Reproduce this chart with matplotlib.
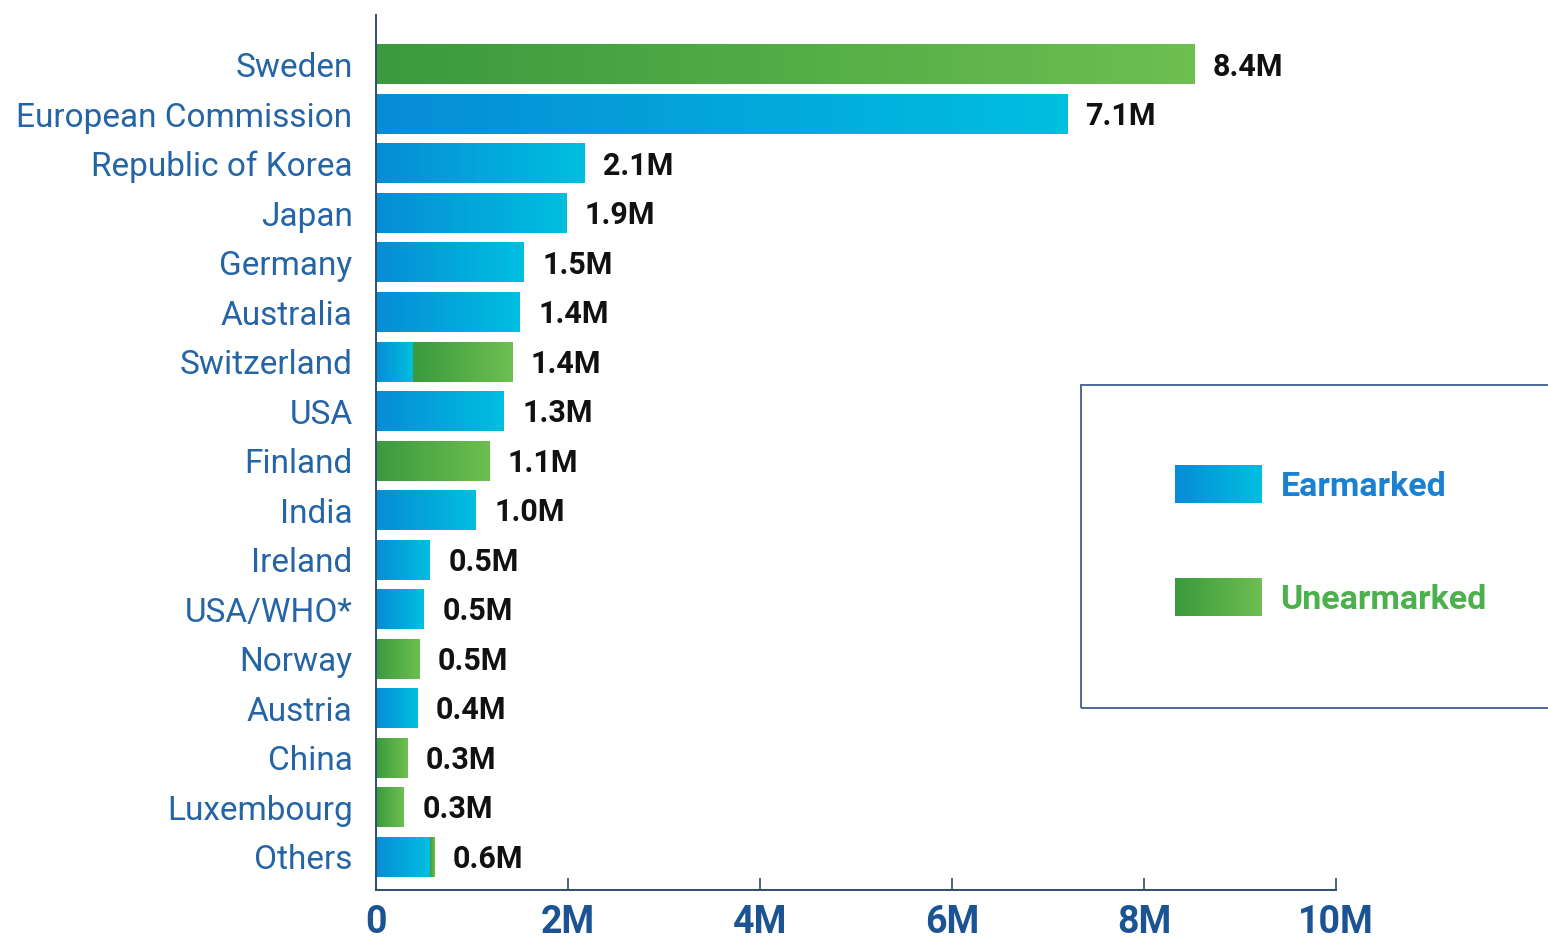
import numpy as np
import matplotlib.pyplot as plt
from matplotlib.colors import LinearSegmentedColormap
from matplotlib.patches import Rectangle

donors = ["Sweden", "European Commission", "Republic of Korea", "Japan", "Germany",
          "Australia", "Switzerland", "USA", "Finland", "India", "Ireland",
          "USA/WHO*", "Norway", "Austria", "China", "Luxembourg", "Others"]
# millions of USD
earmarked = [0, 7.2, 2.17, 1.98, 1.54, 1.5, 0.38, 1.33, 0, 1.04, 0.56,
             0.5, 0, 0.43, 0, 0, 0.56]
unearmarked = [8.53, 0, 0, 0, 0, 0, 1.04, 0, 1.18, 0, 0,
               0, 0.45, 0, 0.33, 0.29, 0.05]
value_labels = ["8.4M", "7.1M", "2.1M", "1.9M", "1.5M", "1.4M", "1.4M", "1.3M",
                "1.1M", "1.0M", "0.5M", "0.5M", "0.5M", "0.4M", "0.3M", "0.3M", "0.6M"]
xticks = [0, 2, 4, 6, 8, 10]
xtick_labels = ["0", "2M", "4M", "6M", "8M", "10M"]

blue_cmap = LinearSegmentedColormap.from_list("blue", ["#078cd6", "#00bfe0"])
green_cmap = LinearSegmentedColormap.from_list("green", ["#3a9a3d", "#6dbf50"])
label_blue = "#2565a6"
axis_col = "#2d4f72"

plt.rcParams["font.family"] = ["Roboto", "DejaVu Sans"]

fig = plt.figure(figsize=(15.48, 9.39), dpi=100)
ax = fig.add_axes([0.243, 0.052, 0.620, 0.932])

grad = np.linspace(0, 1, 256).reshape(1, -1)


def gradient_bars(bars, cmap):
    for bar in bars:
        w = bar.get_width()
        if w <= 0:
            continue
        x0, y0, h = bar.get_x(), bar.get_y(), bar.get_height()
        bar.set_visible(False)
        ax.imshow(grad, extent=(x0, x0 + w, y0 + h, y0), aspect="auto",
                  cmap=cmap, zorder=2, interpolation="bicubic")


y = np.arange(len(donors))
height = 0.8
b1 = ax.barh(y, earmarked, height=height, color="#078cd6")
b2 = ax.barh(y, unearmarked, left=earmarked, height=height, color="#3a9a3d")
gradient_bars(b1, blue_cmap)
gradient_bars(b2, green_cmap)

totals = np.array(earmarked) + np.array(unearmarked)
for yi, tot, lab in zip(y, totals, value_labels):
    ax.text(tot + 0.19, yi + 0.04, lab, va="center", ha="left", fontsize=22,
            fontweight="bold", color="#111111")

ax.set_xlim(0, 10)
ax.set_ylim(len(donors) - 0.33, -1.0)
ax.set_yticks(y)
ax.set_yticklabels(donors, fontsize=24, color=label_blue)
ax.set_xticks(xticks)
ax.set_xticklabels(xtick_labels, fontsize=27, fontweight="bold", color="#1c5493")
ax.tick_params(axis="y", length=0, pad=17)
ax.tick_params(axis="x", direction="in", length=9, width=1.2, color=axis_col, pad=10)
for side in ["top", "right"]:
    ax.spines[side].set_visible(False)
for side in ["left", "bottom"]:
    ax.spines[side].set_color(axis_col)
    ax.spines[side].set_linewidth(1.4)

# legend panel, running off the right edge like the original
lx0, ly0 = 1081 / 1548, 1 - 708 / 939
fig.patches.append(Rectangle((lx0, ly0), 0.4, 323 / 939, transform=fig.transFigure,
                             fill=False, edgecolor="#4d6d95", linewidth=1.4))
leg = fig.add_axes([1175 / 1548, 1 - 616 / 939, 87 / 1548, 151 / 939])
leg.axis("off")
leg.imshow(grad, extent=(0, 1, 113, 151), aspect="auto", cmap=blue_cmap)
leg.imshow(grad, extent=(0, 1, 0, 38), aspect="auto", cmap=green_cmap)
leg.set_xlim(0, 1)
leg.set_ylim(0, 151)
fig.text(1281 / 1548, 1 - 487 / 939, "Earmarked", fontsize=24.5, fontweight="bold",
         color="#1a80cf", va="center", ha="left")
fig.text(1280 / 1548, 1 - 600 / 939, "Unearmarked", fontsize=24.5, fontweight="bold",
         color="#4cb04c", va="center", ha="left")

fig.savefig("out.png", dpi=100)
